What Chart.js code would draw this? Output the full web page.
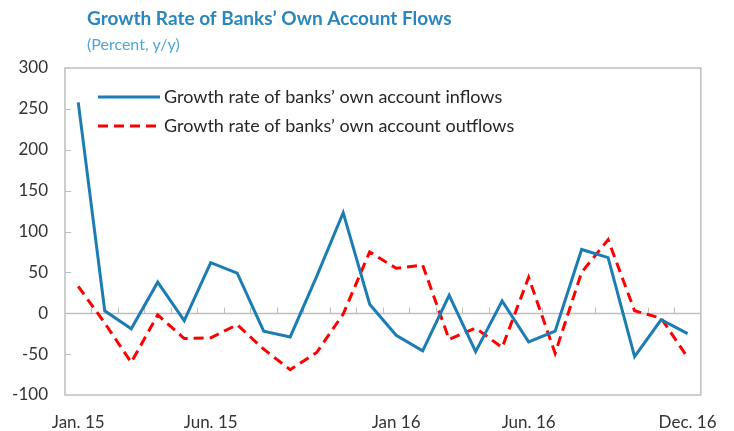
<!DOCTYPE html>
<html>
<head>
<meta charset="utf-8">
<script src="https://cdn.jsdelivr.net/npm/chart.js@4"></script>
<style>
  html, body { margin: 0; padding: 0; background: #fff; }
  #wrap { width: 734px; height: 431px; position: relative; }
</style>
</head>
<body>
<div id="wrap"><canvas id="flowChart"></canvas></div>
<script>
// monthly data, Jan 2015 - Dec 2016
const months = [
  "Jan. 15", "", "", "", "", "Jun. 15", "", "", "", "", "", "",
  "Jan 16", "", "", "", "", "Jun. 16", "", "", "", "", "", "Dec. 16"
];
const inflows = [
  258, 3, -19, 38, -9, 62, 49, -22, -29, 45, 123, 11,
  -27, -46, 22, -47, 15, -35, -22, 78, 68, -53, -8, -25
];
const outflows = [
  33, -12, -60, -2, -31, -30, -14, -44, -69, -48, -1, 75,
  55, 59, -32, -18, -42, 44, -49, 50, 90, 3, -6, -54
];
const yTicks = [-100, -50, 0, 50, 100, 150, 200, 250, 300];

const titleText = "Growth Rate of Banks’ Own Account Flows";
const subtitleText = "(Percent, y/y)";

const FONT = "Lato, 'Open Sans', sans-serif";
const GRAY = "#bfbfbf";

// title, frame, zero line, tick marks and the inset legend
const decor = {
  id: "decor",
  beforeDatasetsDraw(chart) {
    const { ctx, chartArea: a, scales } = chart;
    const x = scales.x, y = scales.y;
    ctx.save();
    ctx.strokeStyle = GRAY;
    ctx.lineWidth = 1.5;
    ctx.strokeRect(a.left, a.top, a.right - a.left, a.bottom - a.top);

    // zero line
    const y0 = Math.round(y.getPixelForValue(0)) + 0.5;
    ctx.beginPath();
    ctx.moveTo(a.left, y0);
    ctx.lineTo(a.right, y0);
    ctx.stroke();

    // x tick marks between categories, pointing up from zero
    ctx.lineWidth = 1;
    const n = months.length;
    for (let i = 1; i < n; i++) {
      const px = Math.round((x.getPixelForValue(i - 1) + x.getPixelForValue(i)) / 2) + 0.5;
      ctx.beginPath();
      ctx.moveTo(px, y0);
      ctx.lineTo(px, y0 - 6);
      ctx.stroke();
    }
    // y tick marks on the inside of the left edge
    yTicks.forEach(v => {
      if (v === 300 || v === -100) return;
      const py = Math.round(y.getPixelForValue(v)) + 0.5;
      ctx.beginPath();
      ctx.moveTo(a.left, py);
      ctx.lineTo(a.left + 6, py);
      ctx.stroke();
    });
    ctx.restore();
  },
  afterDraw(chart) {
    const { ctx } = chart;
    ctx.save();
    ctx.textBaseline = "alphabetic";
    ctx.textAlign = "left";
    ctx.fillStyle = "#2a86bd";
    ctx.font = "bold 19px " + FONT;
    ctx.fillText(titleText, 87, 25);
    ctx.fillStyle = "#4fa6d8";
    ctx.font = "16px " + FONT;
    ctx.fillText(subtitleText, 87, 50);

    // legend
    const rows = [97, 126];
    chart.data.datasets.forEach((ds, i) => {
      const ly = rows[i];
      ctx.beginPath();
      ctx.strokeStyle = ds.borderColor;
      ctx.lineWidth = ds.borderWidth;
      ctx.setLineDash(ds.borderDash || []);
      ctx.moveTo(98, ly);
      ctx.lineTo(160, ly);
      ctx.stroke();
      ctx.setLineDash([]);
      ctx.fillStyle = "#262626";
      ctx.font = "18px " + FONT;
      ctx.textBaseline = "middle";
      ctx.fillText(ds.label, 164, ly);
    });
    ctx.restore();
  }
};

new Chart(document.getElementById("flowChart"), {
  type: "line",
  data: {
    labels: months,
    datasets: [
      {
        label: "Growth rate of banks’ own account inflows",
        data: inflows,
        borderColor: "#1b7db3",
        borderWidth: 3,
        pointRadius: 0,
        tension: 0,
        fill: false
      },
      {
        label: "Growth rate of banks’ own account outflows",
        data: outflows,
        borderColor: "#ff0000",
        borderWidth: 3,
        borderDash: [10, 6],
        pointRadius: 0,
        tension: 0,
        fill: false
      }
    ]
  },
  options: {
    responsive: true,
    maintainAspectRatio: false,
    animation: false,
    layout: { padding: { left: 0, top: 68, right: 20, bottom: 0 } },
    plugins: {
      legend: { display: false },
      tooltip: { enabled: false },
      title: { display: false }
    },
    scales: {
      x: {
        offset: true,
        grid: { display: false, drawTicks: false },
        border: { display: false },
        ticks: {
          autoSkip: false,
          maxRotation: 0,
          padding: 17,
          color: "#333333",
          font: { family: FONT, size: 17 }
        },
        afterFit(s) { s.height = 36; }
      },
      y: {
        min: -100,
        max: 300,
        afterBuildTicks(s) { s.ticks = yTicks.map(v => ({ value: v })); },
        grid: { display: false, drawTicks: false },
        border: { display: false },
        ticks: {
          padding: 17,
          color: "#333333",
          font: { family: FONT, size: 17 }
        },
        afterFit(s) { s.width = 65; }
      }
    }
  },
  plugins: [decor]
});
</script>
</body>
</html>
